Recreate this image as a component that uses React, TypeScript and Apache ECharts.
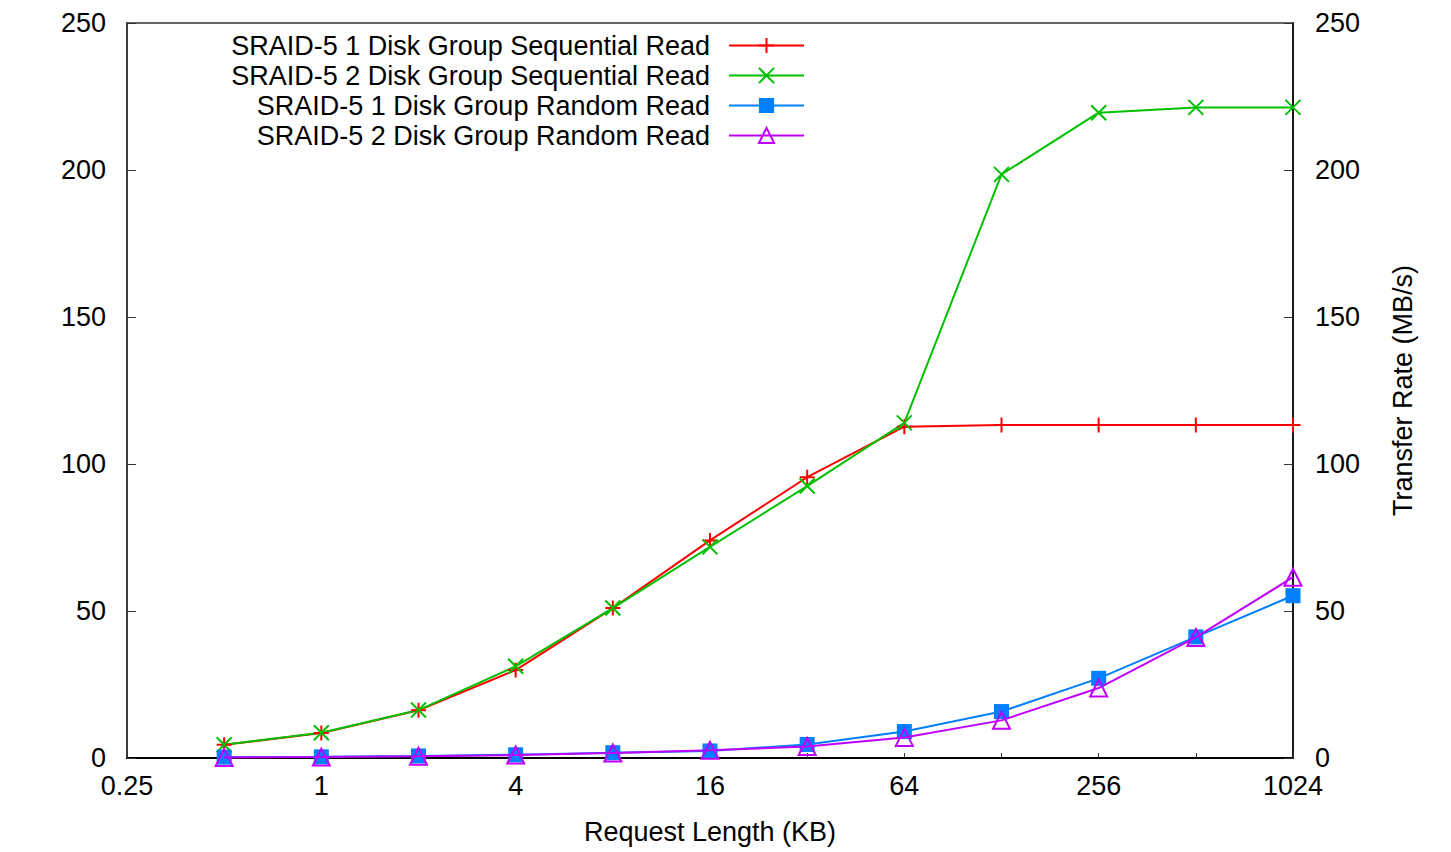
import React, { useEffect, useRef } from "react";
import * as echarts from "echarts";

const requestSizes = [0.5, 1, 2, 4, 8, 16, 32, 64, 128, 256, 512, 1024];
const seq1 = [4.5, 8.5, 16.2, 29.9, 51, 74, 95.5, 112.7, 113.3, 113.3, 113.3, 113.3];
const seq2 = [4.5, 8.6, 16.3, 31.2, 51, 71.8, 92.5, 114.0, 198.5, 219.5, 221.3, 221.3];
const rnd1 = [0.3, 0.4, 0.7, 1.1, 1.8, 2.4, 4.6, 9.0, 15.8, 27.1, 41.2, 55.2];
const rnd2 = [0.2, 0.3, 0.6, 1.0, 1.7, 2.6, 3.9, 7.0, 12.8, 23.8, 41.0, 61.5];
const seriesNames = [
  "SRAID-5 1 Disk Group Sequential Read",
  "SRAID-5 2 Disk Group Sequential Read",
  "SRAID-5 1 Disk Group Random Read",
  "SRAID-5 2 Disk Group Random Read",
];
const yTicks = [0, 50, 100, 150, 200, 250];

const FONT = "'Liberation Sans', Arial, sans-serif";
const FS = 27;

export default function App() {
  const ref = useRef<HTMLDivElement>(null);
  useEffect(() => {
    if (!ref.current) return;
    const chart = echarts.init(ref.current, null, { renderer: "svg" });
    const pair = (ys: number[]) => requestSizes.map((x, i) => [x, ys[i]]);
    const colors = ["#ff0000", "#00c000", "#0080ff", "#c000ff"];
    const symbols = [
      "path://M5,0 L5,10 M0,5 L10,5",
      "path://M0,0 L10,10 M10,0 L0,10",
      "rect",
      "triangle",
    ];
    const symbolSizes = [15, 15, 15, 17];
    const datas = [seq1, seq2, rnd1, rnd2];
    const series = datas.map((d, i) => ({
      name: seriesNames[i],
      type: "line",
      data: pair(d),
      symbol: symbols[i],
      symbolSize: symbolSizes[i],
      lineStyle: { color: colors[i], width: 2 },
      itemStyle:
        i === 2
          ? { color: colors[i], borderWidth: 0 }
          : i === 3
          ? { color: "rgba(0,0,0,0)", borderColor: colors[i], borderWidth: 2 }
          : { color: colors[i], borderColor: colors[i], borderWidth: 2 },
      z: 2 + (i === 3 ? 1 : 0),
    }));
    const legends = seriesNames.map((n, i) => ({
      data: [n],
      right: 646,
      top: 32 + i * 30,
      orient: "horizontal",
      align: "right",
      padding: 0,
      itemWidth: 75,
      itemHeight: 19,
      selectedMode: false,
      textStyle: {
        fontFamily: FONT,
        fontSize: FS,
        color: "#000",
        padding: [0, 14, 0, 0],
      },
    }));
    chart.setOption({
      animation: false,
      backgroundColor: "#fff",
      textStyle: { fontFamily: FONT },
      grid: {
        left: 127,
        right: 158,
        top: 23,
        bottom: 94,
        show: true,
        borderColor: "#333",
        borderWidth: 1.5,
      },
      legend: legends,
      xAxis: {
        type: "log",
        logBase: 2,
        min: 0.25,
        max: 1024,
        interval: 1,
        splitNumber: 12,
        name: "Request Length (KB)",
        nameLocation: "middle",
        nameGap: 60,
        nameTextStyle: { fontFamily: FONT, fontSize: FS, color: "#000" },
        axisLine: { show: true, lineStyle: { color: "#000", width: 2 } },
        axisTick: { show: true, inside: true, length: 5, lineStyle: { color: "#333" } },
        splitLine: { show: false },
        minorTick: { show: false },
        axisLabel: {
          fontFamily: FONT,
          fontSize: FS,
          color: "#000",
          margin: 14,
          showMinLabel: true,
          showMaxLabel: true,
          hideOverlap: false,
          interval: 0,
          formatter: (v: number) => {
            const e = Math.round(Math.log2(v));
            return e % 2 === 0 ? String(Math.pow(2, e)) : "";
          },
        },
      },
      yAxis: [
        {
          type: "value",
          min: 0,
          max: 250,
          interval: 50,
          position: "left",
          axisLine: { show: true, lineStyle: { color: "#333", width: 1.5 } },
          axisTick: { show: true, inside: true, length: 9, lineStyle: { color: "#333" } },
          splitLine: { show: false },
          axisLabel: {
            fontFamily: FONT,
            fontSize: FS,
            color: "#000",
            margin: 21,
            formatter: (v: number) => (yTicks.includes(v) ? String(v) : ""),
          },
        },
        {
          type: "value",
          min: 0,
          max: 250,
          interval: 50,
          position: "right",
          name: "Transfer Rate (MB/s)",
          nameLocation: "middle",
          nameRotate: 90,
          nameGap: 96,
          nameTextStyle: { fontFamily: FONT, fontSize: FS, color: "#000" },
          axisLine: { show: true, lineStyle: { color: "#000", width: 1.5 } },
          axisTick: { show: true, inside: true, length: 9, lineStyle: { color: "#333" } },
          splitLine: { show: false },
          axisLabel: {
            fontFamily: FONT,
            fontSize: FS,
            color: "#000",
            margin: 22,
            formatter: (v: number) => (yTicks.includes(v) ? String(v) : ""),
          },
        },
      ],
      series,
    });
    return () => chart.dispose();
  }, []);
  return (
    <div
      ref={ref}
      style={{ position: "fixed", left: 0, top: 0, width: 1451, height: 852, background: "#fff" }}
    />
  );
}
